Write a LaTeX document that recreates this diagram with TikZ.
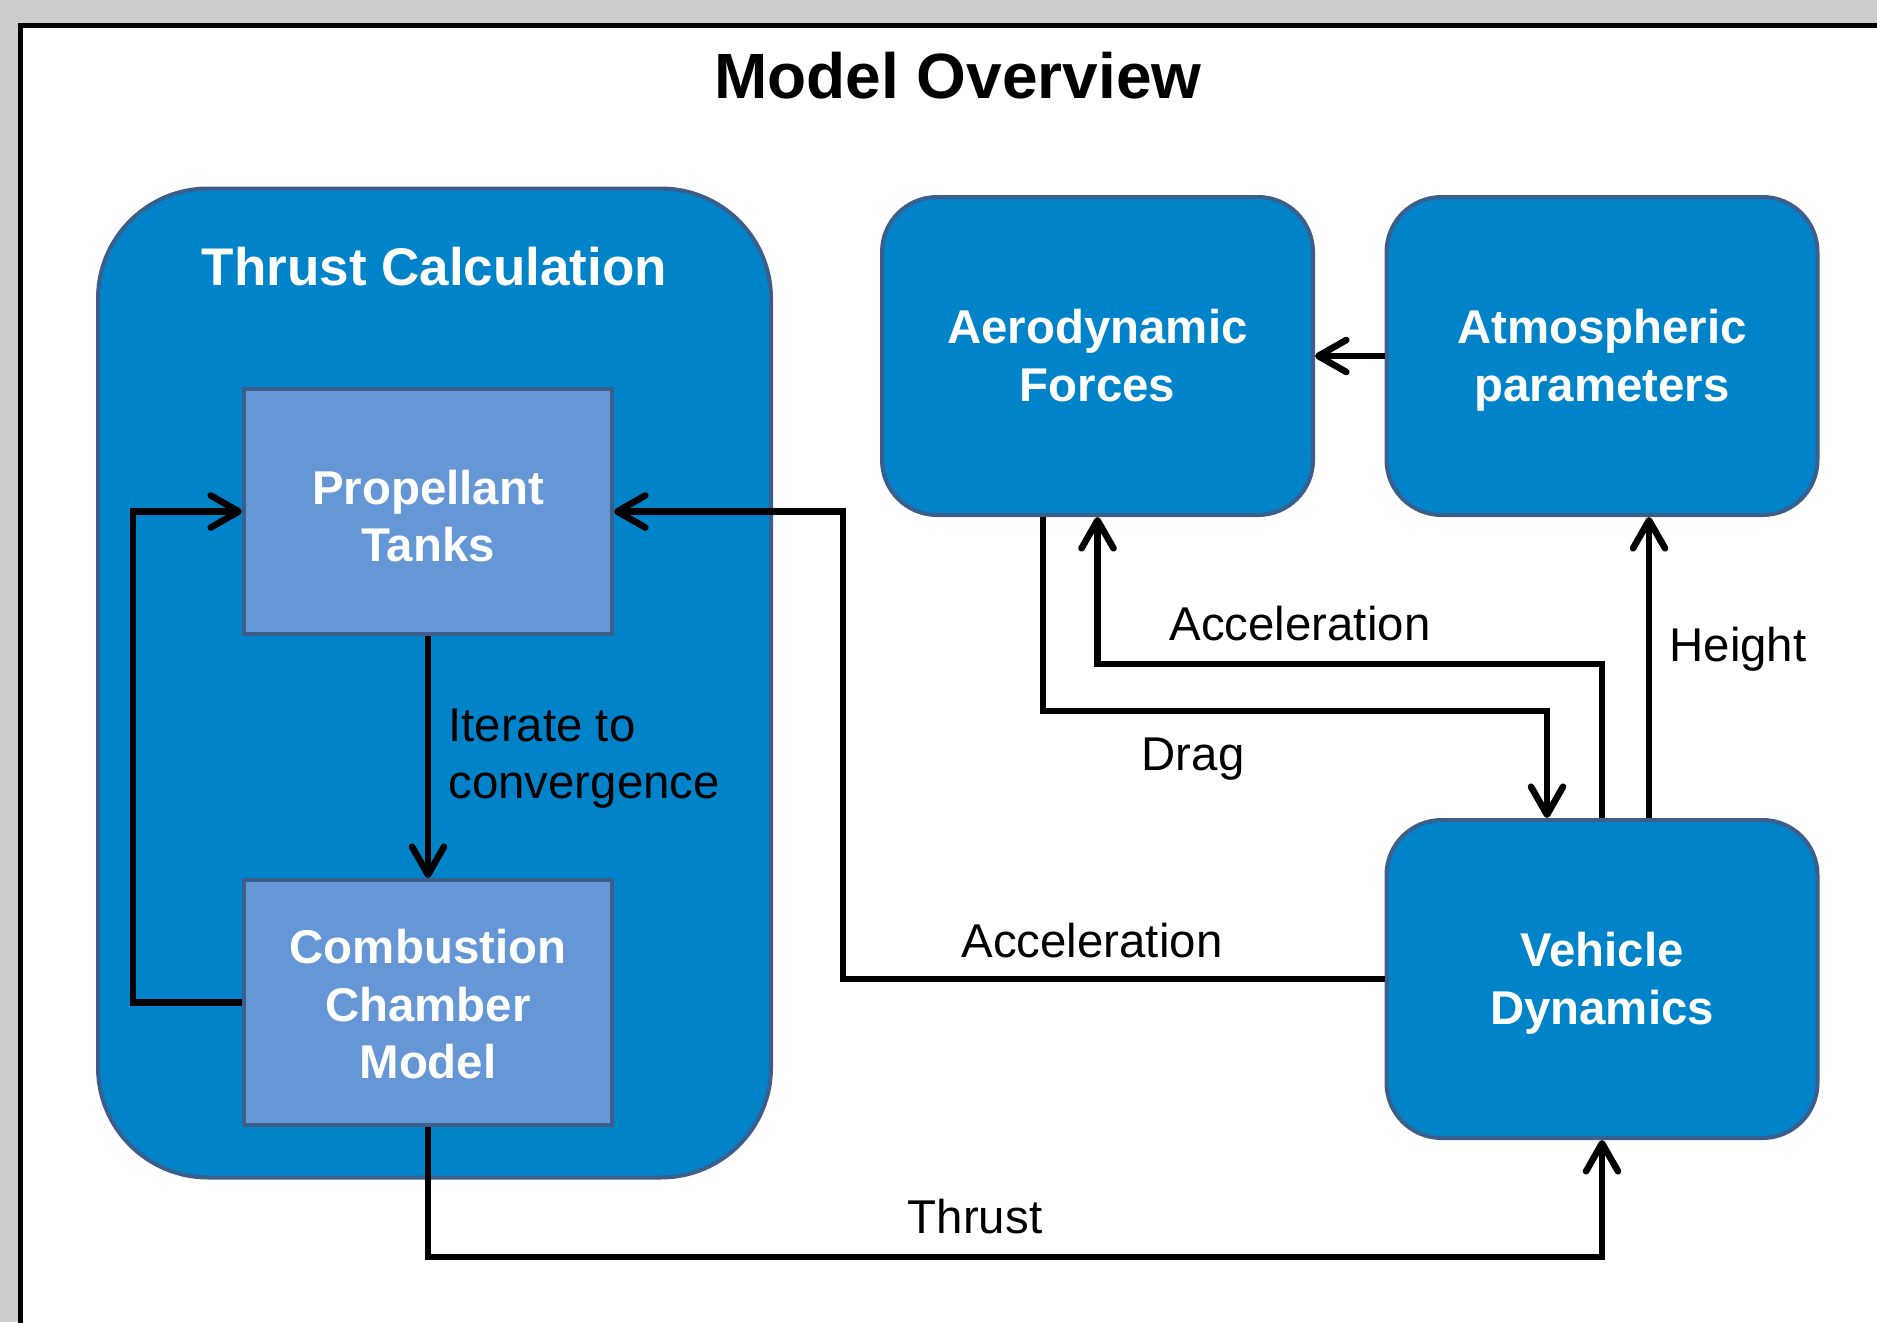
\documentclass[tikz,border=0pt]{standalone}
\usepackage{fontspec}
\setmainfont{Liberation Sans}
\usetikzlibrary{arrows.meta,calc}
\definecolor{boxblue}{RGB}{0,131,201}
\definecolor{boxedge}{RGB}{59,94,140}
\definecolor{lightblue}{RGB}{101,150,214}
\definecolor{bggrey}{RGB}{204,204,204}
\newcommand\tstrut{\rule{0pt}{0.905em}}
\newcommand\bstrut{\rule[-0.212em]{0pt}{0.212em}}
\begin{document}
\begin{tikzpicture}[x=0.5pt,y=-0.5pt,
  boxtext/.style={font=\fontsize{23.7}{28.8}\selectfont\bfseries, text=white, align=center, inner sep=0pt},
  bluebox/.style={boxtext, draw=boxedge, fill=boxblue, line width=2pt, rounded corners=27.5pt, minimum width=215.5pt, minimum height=159pt},
  tankbox/.style={boxtext, draw=boxedge, fill=lightblue, line width=2pt, minimum width=184pt, minimum height=122.5pt},
  lbl/.style={font=\fontsize{23.7}{28.8}\selectfont, inner sep=0pt, text=black},
  arr/.style={draw=black, line width=3.3pt, -{Straight Barb[length=14pt,width=16pt,round]}}
]
\clip (0,0) rectangle (1877,1322);
\fill[bggrey] (0,0) rectangle (1877,1322);
\draw[line width=2.5pt, fill=white] (20.5,25.5) rectangle (1900,1350);

\node[font=\fontsize{32}{38}\selectfont\bfseries, anchor=base, inner sep=0pt] (title) at (958,98) {Model Overview};

% Thrust calculation container
\node[draw=boxedge, fill=boxblue, line width=2pt, rounded corners=55pt, minimum width=336.5pt, minimum height=494.5pt] (thrustcalc) at (434.5,683) {};
\node[font=\fontsize{26.5}{31}\selectfont\bfseries, text=white, anchor=base, inner sep=0pt] (thrusttitle) at (434.5,285) {Thrust Calculation};

\node[tankbox] (prop) at (428,511.5) {\rule{0pt}{1.12em}Propellant\\Tanks\bstrut};
\node[tankbox] (comb) at (428,1002.5) {\rule{0pt}{1.0em}Combustion\\Chamber\\Model\bstrut};

\node[bluebox] (aero) at (1097.5,356) {\tstrut Aerodynamic\\Forces\bstrut};
\node[bluebox] (atmos) at (1602,356) {\tstrut Atmospheric\\parameters\bstrut};
\node[bluebox] (veh) at (1602,979) {\tstrut Vehicle\\Dynamics\bstrut};

% connectors
\draw[arr] (atmos.west) -- (aero.east);
\draw[arr] (prop.south) -- (comb.north);
\draw[arr] (comb.west) -- ++(-109,0) |- (prop.west);
\draw[arr] (veh.west) -- ++(-541.5,0) |- (prop.east);
\draw[arr] ($(aero.south)+(-54.5,0)$) -- ++(0,194) -| ($(veh.north)+(-55,0)$);
\draw[arr] (veh.north) -- ++(0,-154) -| (aero.south);
\draw[arr] ($(veh.north)+(47,0)$) -- ($(atmos.south)+(47,0)$);
\draw[arr] (comb.south) -- ++(0,130) -| (veh.south);

% labels
\node[lbl, align=left, anchor=west] (iterlbl) at (448,753.5) {\tstrut Iterate to\\convergence\bstrut};
\node[lbl, anchor=base] (acclbl1) at (1300,640) {Acceleration};
\node[lbl, anchor=base] (heightlbl) at (1738,661) {Height};
\node[lbl, anchor=base] (draglbl) at (1193,770) {Drag};
\node[lbl, anchor=base] (acclbl2) at (1092,957) {Acceleration};
\node[lbl, anchor=base] (thrustlbl) at (975,1233) {Thrust};
\end{tikzpicture}
\end{document}
